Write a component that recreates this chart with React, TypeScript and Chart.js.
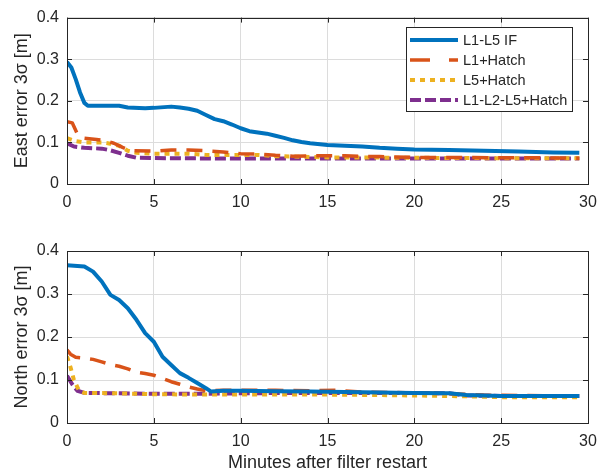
import React, { useEffect, useRef } from "react";
import { Chart, registerables } from "chart.js";

Chart.register(...registerables);

// ---- data (minutes, metres) ----
const seriesNames = ["L1-L5 IF", "L1+Hatch", "L5+Hatch", "L1-L2-L5+Hatch"];
const xTicks = [0, 5, 10, 15, 20, 25, 30];
const yTicks = [0, 0.1, 0.2, 0.3, 0.4];

const eastIFx = [0, 0.25, 0.5, 0.75, 1.0, 1.2, 3, 3.5, 4.5, 5, 6, 6.5, 7, 7.5, 8, 8.5, 9, 9.5, 10, 10.5, 11, 11.5, 12, 12.5, 13, 13.5, 14, 15, 16, 17, 18, 19, 20, 22, 24, 26, 28, 29.5];
const eastIFy = [0.293, 0.28, 0.252, 0.22, 0.195, 0.188, 0.188, 0.184, 0.182, 0.183, 0.186, 0.184, 0.181, 0.176, 0.166, 0.156, 0.151, 0.143, 0.134, 0.127, 0.124, 0.121, 0.116, 0.111, 0.105, 0.101, 0.098, 0.094, 0.092, 0.09, 0.087, 0.085, 0.083, 0.082, 0.08, 0.078, 0.076, 0.075];

const eastL1x = [0, 0.3, 0.6, 1.0, 1.7, 2.2, 2.7, 3.2, 3.7, 5, 6, 7, 8, 9, 10, 11, 12, 13, 15, 16, 17, 18, 20, 22, 25, 27, 29.5];
const eastL1y = [0.15, 0.147, 0.12, 0.11, 0.107, 0.104, 0.098, 0.088, 0.08, 0.079, 0.082, 0.082, 0.08, 0.077, 0.073, 0.072, 0.069, 0.067, 0.068, 0.068, 0.066, 0.066, 0.064, 0.064, 0.063, 0.063, 0.062];

const eastL5x = [0, 0.5, 1, 2, 2.5, 3, 3.5, 4, 5, 6, 7, 8, 9, 10, 11, 12, 13, 14, 15, 20, 25, 29.5];
const eastL5y = [0.11, 0.103, 0.1, 0.1, 0.097, 0.092, 0.08, 0.075, 0.073, 0.073, 0.073, 0.07, 0.07, 0.07, 0.07, 0.067, 0.066, 0.065, 0.064, 0.063, 0.062, 0.062];

const eastTrix = [0, 0.4, 1, 2, 2.5, 3, 3.5, 4, 6, 10, 15, 20, 25, 29.5];
const eastTriy = [0.098, 0.09, 0.087, 0.085, 0.081, 0.075, 0.068, 0.063, 0.062, 0.061, 0.061, 0.061, 0.061, 0.061];

const northIFx = [0, 1, 1.5, 2, 2.5, 3, 3.5, 4, 4.5, 5, 5.5, 6, 6.5, 7, 7.5, 8, 8.3, 9, 10, 12, 14, 16, 18, 20, 22, 23, 25, 27, 29.5];
const northIFy = [0.367, 0.364, 0.352, 0.329, 0.298, 0.286, 0.267, 0.24, 0.209, 0.189, 0.154, 0.135, 0.116, 0.105, 0.093, 0.081, 0.073, 0.075, 0.075, 0.074, 0.073, 0.072, 0.071, 0.07, 0.069, 0.065, 0.063, 0.063, 0.063];

const northL1x = [0, 0.2, 0.5, 1, 1.5, 2, 2.5, 3, 3.5, 4, 4.5, 5, 5.5, 6, 6.5, 7, 7.5, 8, 9, 10, 12, 14, 15.5, 17, 20, 22, 24, 26, 29.5];
const northL1y = [0.17, 0.16, 0.153, 0.151, 0.148, 0.142, 0.136, 0.132, 0.126, 0.118, 0.115, 0.111, 0.104, 0.096, 0.09, 0.084, 0.079, 0.075, 0.076, 0.076, 0.076, 0.075, 0.076, 0.072, 0.07, 0.068, 0.065, 0.064, 0.063];

const northL5x = [0, 0.2, 0.4, 0.7, 1, 3, 5, 8, 10, 13, 15, 18, 20, 23, 25, 29.5];
const northL5y = [0.155, 0.13, 0.1, 0.075, 0.07, 0.069, 0.067, 0.066, 0.066, 0.066, 0.066, 0.065, 0.064, 0.062, 0.06, 0.06];

const northTrix = [0, 0.3, 0.6, 1, 3, 5, 8, 10, 13, 15, 18, 20, 22, 23, 25, 29.5];
const northTriy = [0.11, 0.09, 0.075, 0.07, 0.069, 0.068, 0.068, 0.069, 0.07, 0.07, 0.07, 0.07, 0.069, 0.064, 0.063, 0.063];

// ---- styles ----
const colors = ["#0072BD", "#D95319", "#EDB120", "#7E2F8E"];
const widths = [4, 3.5, 4, 4];
const dashes: number[][] = [[], [16, 10], [5, 5], [11, 4]];
const FONT = "'Liberation Sans', Arial, Helvetica, sans-serif";
const TXT = "#262626";

function pts(xs: number[], ys: number[]) {
  return xs.map((x, i) => ({ x, y: ys[i] }));
}

function makeDatasets(groups: [number[], number[]][]) {
  return groups.map(([xs, ys], i) => ({
    label: seriesNames[i],
    data: pts(xs, ys),
    borderColor: colors[i],
    backgroundColor: colors[i],
    borderWidth: widths[i],
    borderDash: dashes[i],
    borderJoinStyle: "round",
    pointRadius: 0,
    tension: 0,
    fill: false,
    order: i,
  }));
}

const framePlugin = {
  id: "frame",
  afterDatasetsDraw(chart: any) {
    const { ctx, chartArea: a, scales } = chart;
    ctx.save();
    ctx.strokeStyle = TXT;
    ctx.lineWidth = 1;
    ctx.strokeRect(Math.round(a.left) + 0.5, Math.round(a.top) + 0.5, Math.round(a.right - a.left), Math.round(a.bottom - a.top));
    const tl = 5;
    ctx.beginPath();
    xTicks.forEach((v) => {
      const px = Math.round(scales.x.getPixelForValue(v)) + 0.5;
      ctx.moveTo(px, a.bottom); ctx.lineTo(px, a.bottom - tl);
      ctx.moveTo(px, a.top); ctx.lineTo(px, a.top + tl);
    });
    yTicks.forEach((v) => {
      const py = Math.round(scales.y.getPixelForValue(v)) + 0.5;
      ctx.moveTo(a.left, py); ctx.lineTo(a.left + tl, py);
      ctx.moveTo(a.right, py); ctx.lineTo(a.right - tl, py);
    });
    ctx.stroke();
    ctx.restore();
  },
};

const legendPlugin = {
  id: "mlegend",
  afterDraw(chart: any) {
    const { ctx } = chart;
    const bx = 406, by = 27, bw = 166, bh = 84;
    ctx.save();
    ctx.fillStyle = "#ffffff";
    ctx.fillRect(bx, by, bw, bh);
    ctx.strokeStyle = TXT;
    ctx.lineWidth = 1;
    ctx.strokeRect(bx + 0.5, by + 0.5, bw, bh);
    chart.data.datasets.forEach((ds: any, i: number) => {
      const y = by + 13 + i * 20;
      ctx.beginPath();
      ctx.strokeStyle = ds.borderColor;
      ctx.lineWidth = ds.borderWidth;
      ctx.setLineDash(i === 1 ? [20, 19] : ds.borderDash);
      ctx.moveTo(bx + 4, y);
      ctx.lineTo(bx + 52, y);
      ctx.stroke();
      ctx.setLineDash([]);
      ctx.fillStyle = TXT;
      ctx.font = `14.5px ${FONT}`;
      ctx.textBaseline = "middle";
      ctx.textAlign = "left";
      ctx.fillText(ds.label, bx + 57, y + 1);
    });
    ctx.restore();
  },
};

function makeConfig(datasets: any[], yTitle: string, showXTitle: boolean, axisHeight: number, extra: any[]) {
  return {
    type: "line",
    data: { datasets },
    options: {
      animation: false,
      responsive: false,
      maintainAspectRatio: false,
      events: [],
      layout: { padding: { left: 0, right: 20, top: showXTitle ? 31 : 13, bottom: 0 } },
      plugins: { legend: { display: false }, tooltip: { enabled: false } },
      scales: {
        x: {
          type: "linear",
          min: 0,
          max: 30,
          afterBuildTicks: (axis: any) => { axis.ticks = xTicks.map((v) => ({ value: v })); },
          afterFit: (axis: any) => { axis.height = axisHeight; },
          grid: { color: "#dcdcdc", lineWidth: 1, drawTicks: false },
          border: { display: false },
          ticks: { color: TXT, font: { family: FONT, size: 16 }, padding: 9, maxRotation: 0 },
          title: {
            display: showXTitle,
            text: "Minutes after filter restart",
            color: TXT,
            font: { family: FONT, size: 18 },
            padding: { top: 0, bottom: 0 },
          },
        },
        y: {
          type: "linear",
          min: 0,
          max: 0.4,
          afterBuildTicks: (axis: any) => { axis.ticks = yTicks.map((v) => ({ value: v })); },
          afterFit: (axis: any) => { axis.width = 67; },
          grid: { color: "#dcdcdc", lineWidth: 1, drawTicks: false },
          border: { display: false },
          ticks: {
            color: TXT,
            font: { family: FONT, size: 16 },
            padding: 8,
            callback: (v: number) => (v === 0 ? "0" : v.toFixed(1)),
          },
          title: {
            display: true,
            text: yTitle,
            color: TXT,
            font: { family: FONT, size: 18 },
            padding: { top: 11, bottom: 0 },
          },
        },
      },
    },
    plugins: [framePlugin, ...extra],
  };
}

function Panel({ width, height, config }: { width: number; height: number; config: () => any }) {
  const ref = useRef<HTMLCanvasElement | null>(null);
  useEffect(() => {
    if (!ref.current) return;
    const chart = new Chart(ref.current, config());
    return () => chart.destroy();
  }, []);
  return <canvas ref={ref} width={width} height={height} style={{ display: "block", width, height }} />;
}

export default function App() {
  const eastSets = () =>
    makeDatasets([
      [eastIFx, eastIFy],
      [eastL1x, eastL1y],
      [eastL5x, eastL5y],
      [eastTrix, eastTriy],
    ]);
  const northSets = () =>
    makeDatasets([
      [northIFx, northIFy],
      [northL1x, northL1y],
      [northL5x, northL5y],
      [northTrix, northTriy],
    ]);
  return (
    <div style={{ position: "absolute", left: 0, top: 0, width: 608, height: 474, background: "#fff" }}>
      <Panel width={608} height={220} config={() => makeConfig(eastSets(), "East error 3σ [m]", false, 36, [legendPlugin])} />
      <Panel width={608} height={254} config={() => makeConfig(northSets(), "North error 3σ [m]", true, 51, [])} />
    </div>
  );
}
